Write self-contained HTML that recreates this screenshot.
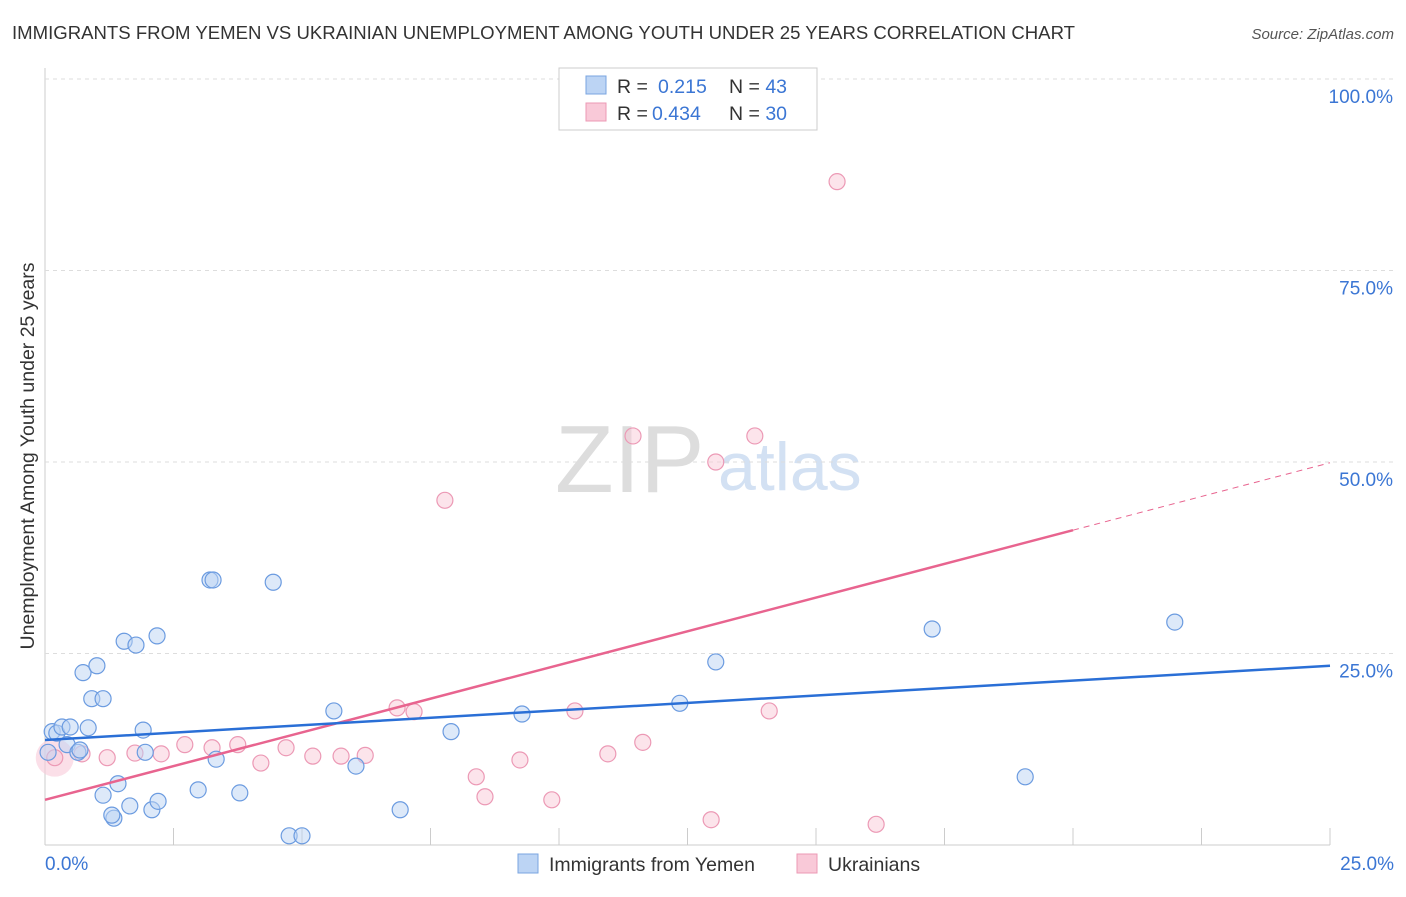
<!DOCTYPE html>
<html><head><meta charset="utf-8"><style>
body{margin:0;background:#fff;font-family:"Liberation Sans",sans-serif}
svg text{font-family:"Liberation Sans",sans-serif}
</style></head><body>
<svg id="c" width="1406" height="892">
<text x="12" y="39" font-size="18.5" fill="#333" textLength="1063" lengthAdjust="spacingAndGlyphs">IMMIGRANTS FROM YEMEN VS UKRAINIAN UNEMPLOYMENT AMONG YOUTH UNDER 25 YEARS CORRELATION CHART</text>
<text x="1394" y="39" font-size="15" fill="#555" font-style="italic" text-anchor="end">Source: ZipAtlas.com</text>
<text x="555" y="492" font-size="96" fill="#ddd" font-family="Liberation Serif">ZIP</text>
<text x="718" y="490" font-size="68" fill="#d3e1f3">atlas</text>
<text transform="translate(34,456) rotate(-90)" font-size="19.5" fill="#333" text-anchor="middle">Unemployment Among Youth under 25 years</text>
<g id="grid"></g><g id="marks"></g>
<g>
<rect x="559" y="68" width="258" height="62" fill="#fff" stroke="#ccc"/>
<rect x="586" y="76" width="20" height="18" fill="#bcd4f4" stroke="#7aa5e0"/>
<rect x="586" y="103" width="20" height="18" fill="#f9c9d8" stroke="#ec99b5"/>
<text x="617" y="93" font-size="19.5" fill="#333">R = <tspan fill="#3b76d4" x="658">0.215</tspan><tspan x="729">N = </tspan><tspan fill="#3b76d4">43</tspan></text>
<text x="617" y="120" font-size="19.5" fill="#333">R = <tspan fill="#3b76d4" x="652">0.434</tspan><tspan x="729">N = </tspan><tspan fill="#3b76d4">30</tspan></text>
</g>
<g>
<rect x="518" y="854" width="20" height="19" fill="#bcd4f4" stroke="#7aa5e0"/>
<text x="549" y="871" font-size="19.5" fill="#333">Immigrants from Yemen</text>
<rect x="797" y="854" width="20" height="19" fill="#f9c9d8" stroke="#ec99b5"/>
<text x="828" y="871" font-size="19.5" fill="#333">Ukrainians</text>
</g>
</svg>
<script>
const xTicks=[0,2.5,5,7.5,10,12.5,15,17.5,20,22.5,25];
const yTicks=[25,50,75,100];
const blueX=[0.06,0.14,0.23,0.33,0.43,0.49,0.64,0.74,0.84,0.91,1.01,1.13,1.13,1.34,1.42,1.54,1.65,1.77,1.91,1.95,2.08,2.18,2.20,2.98,3.21,3.27,3.33,3.79,4.44,4.75,5.00,5.62,6.05,6.91,7.90,9.28,12.35,13.05,17.26,19.07,21.98,1.30,0.68];
const blueY=[12.1,14.8,14.6,15.4,13.1,15.4,12.1,22.5,15.3,19.1,23.4,19.1,6.5,3.5,8.0,26.6,5.1,26.1,15.0,12.1,4.6,27.3,5.7,7.2,34.6,34.6,11.2,6.8,34.3,1.2,1.2,17.5,10.3,4.6,14.8,17.1,18.5,23.9,28.2,8.9,29.1,3.9,12.4];
const pinkX=[0.19,0.72,1.21,1.75,2.26,2.72,3.25,3.75,4.20,4.69,5.21,5.76,6.23,6.85,7.18,7.78,8.39,8.56,9.24,9.86,10.31,10.95,11.44,11.63,12.96,13.05,13.81,14.09,15.41,16.17];
const pinkY=[11.4,11.9,11.4,12.0,11.9,13.1,12.7,13.1,10.7,12.7,11.6,11.6,11.7,17.9,17.4,45.0,8.9,6.3,11.1,5.9,17.5,11.9,53.4,13.4,3.3,50.0,53.4,17.5,86.6,2.7];
const blueLine=[13.7,23.4];
const pinkLine=[5.9,49.9];
const pinkSolidEnd=20;
const sx=v=>45+v/25*1285, sy=v=>845-v/25*191.5;
const NS="http://www.w3.org/2000/svg";
function mk(p,t,a){const e=document.createElementNS(NS,t);for(const k in a)e.setAttribute(k,a[k]);p.appendChild(e);return e;}
const g=document.getElementById('grid'),m=document.getElementById('marks');
let ax=mk(g,'line',{x1:45,y1:68,x2:45,y2:845,stroke:'#ccc'});

ax=mk(g,'line',{x1:45,y1:845,x2:1330,y2:845,stroke:'#ccc'});

yTicks.forEach(v=>{const l=mk(g,'line',{x1:45,x2:1394,y1:sy(v),y2:sy(v),stroke:'#ddd','stroke-dasharray':'4,4'});

const t=mk(g,'text',{x:1393,y:sy(v)+24,'font-size':19,fill:'#3b76d4','text-anchor':'end'});t.textContent=v.toFixed(1)+'%';
});
xTicks.forEach((v,i)=>{if(i>0){const l=mk(g,'line',{x1:sx(v),x2:sx(v),y1:828,y2:845,stroke:'#ccc'});
}});
[[0,'start',45],[25,'end',1394]].forEach(([v,a,x])=>{const t=mk(g,'text',{x:x,y:870,'font-size':19,fill:'#3b76d4','text-anchor':a});t.textContent=v.toFixed(1)+'%';
});
const pc=mk(m,'circle',{cx:sx(0.19),cy:sy(11.4),r:19,fill:'#f9c9d8','fill-opacity':0.6});


pinkX.forEach((x,i)=>{const c=mk(m,'circle',{cx:sx(x),cy:sy(pinkY[i]),r:8,fill:'#f9c9d8','fill-opacity':0.5,stroke:'#ec99b5','stroke-width':1.2});
});
blueX.forEach((x,i)=>{const c=mk(m,'circle',{cx:sx(x),cy:sy(blueY[i]),r:8,fill:'#bcd4f4','fill-opacity':0.5,stroke:'#6b9be0','stroke-width':1.2});
});
const ps=pinkLine[0]+(pinkLine[1]-pinkLine[0])*pinkSolidEnd/25;
let l=mk(m,'line',{x1:sx(0),y1:sy(pinkLine[0]),x2:sx(pinkSolidEnd),y2:sy(ps),stroke:'#e8648f','stroke-width':2.5});

l=mk(m,'line',{x1:sx(pinkSolidEnd),y1:sy(ps),x2:sx(25),y2:sy(pinkLine[1]),stroke:'#e8648f','stroke-width':1,'stroke-dasharray':'6,5'});

l=mk(m,'line',{x1:sx(0),y1:sy(blueLine[0]),x2:sx(25),y2:sy(blueLine[1]),stroke:'#2a6fd6','stroke-width':2.5});

</script>
</body></html>
